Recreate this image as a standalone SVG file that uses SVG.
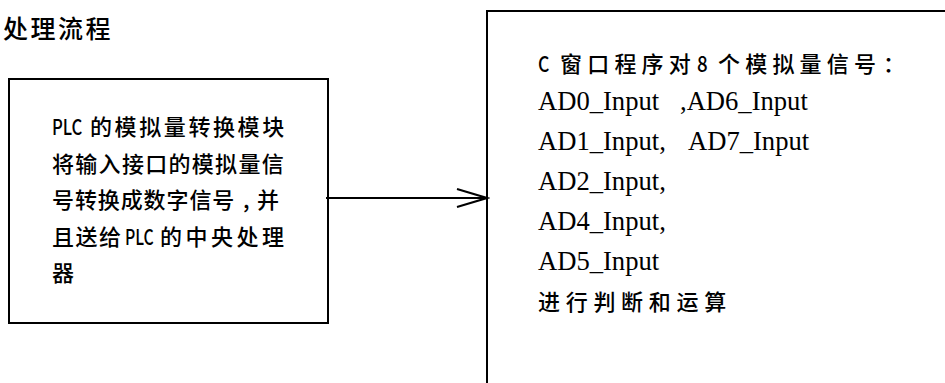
<svg xmlns="http://www.w3.org/2000/svg" width="945" height="383" viewBox="0 0 945 383">
<defs>
<style>
.box{fill:#fff;stroke:#000;stroke-width:2}
.cjk{font-family:"Noto Sans CJK SC","Noto Sans",sans-serif;font-weight:500;fill:#000}
.tnr{font-family:"Liberation Serif",serif;fill:#000;white-space:pre}
.conn{stroke:#000;stroke-width:2;fill:none}
</style>
<marker id="open" markerUnits="userSpaceOnUse" markerWidth="34" markerHeight="22" viewBox="0 0 34 22" refX="31" refY="11" orient="auto">
<polyline points="1,2 31,11 1,20" fill="none" stroke="#000" stroke-width="2"/>
</marker>
</defs>
<rect width="945" height="383" fill="#fff"/>
<g id="title">
<text class="cjk" x="3" y="38" font-size="25" letter-spacing="2.5">处理流程</text>
</g>
<g id="node-plc">
<rect class="box" x="9" y="79" width="319" height="244"/>
<text class="cjk" font-size="22" transform="translate(52,135) scale(0.76,1)">PLC</text>
<text class="cjk" font-size="22">
<tspan x="90" y="135" letter-spacing="2.6">的模拟量转换模块</tspan>
<tspan x="52" y="171.5" letter-spacing="1.3">将输入接口的模拟量信</tspan>
<tspan x="52" y="208" letter-spacing="0.9">号转换成数字信号</tspan><tspan x="243" y="208">,</tspan><tspan x="257" y="208">并</tspan>
<tspan x="52" y="244.5" letter-spacing="1.5">且送给</tspan><tspan x="160" y="244.5" letter-spacing="3.5">的中央处理</tspan>
<tspan x="52" y="281">器</tspan>
</text>
<text class="cjk" font-size="22" transform="translate(125,244.5) scale(0.72,1)">PLC</text>
</g>
<g id="node-c">
<rect class="box" x="487" y="11" width="480" height="400"/>
<text class="cjk" font-size="22" transform="translate(538,71.5) scale(0.8,1)">C</text>
<text class="cjk" font-size="22" transform="translate(697,71.5) scale(0.85,1)">8</text>
<text class="cjk" font-size="22" y="71.5"><tspan x="560" letter-spacing="5.2">窗口程序对</tspan><tspan x="718" letter-spacing="5.2">个模拟量信号</tspan><tspan x="883">：</tspan></text>
<text class="tnr" font-size="26.6">
<tspan x="538" y="110">AD0_Input</tspan><tspan x="680" y="110">,AD6_Input</tspan>
<tspan x="538" y="150">AD1_Input,</tspan><tspan x="688" y="150">AD7_Input</tspan>
<tspan x="538" y="190">AD2_Input,</tspan>
<tspan x="538" y="230">AD4_Input,</tspan>
<tspan x="538" y="270">AD5_Input</tspan>
</text>
<text class="cjk" font-size="22" letter-spacing="5.7" x="538" y="310">进行判断和运算</text>
</g>
<g id="connectors">
<line class="conn" x1="326" y1="198" x2="487" y2="198" marker-end="url(#open)"/>
</g>
</svg>
